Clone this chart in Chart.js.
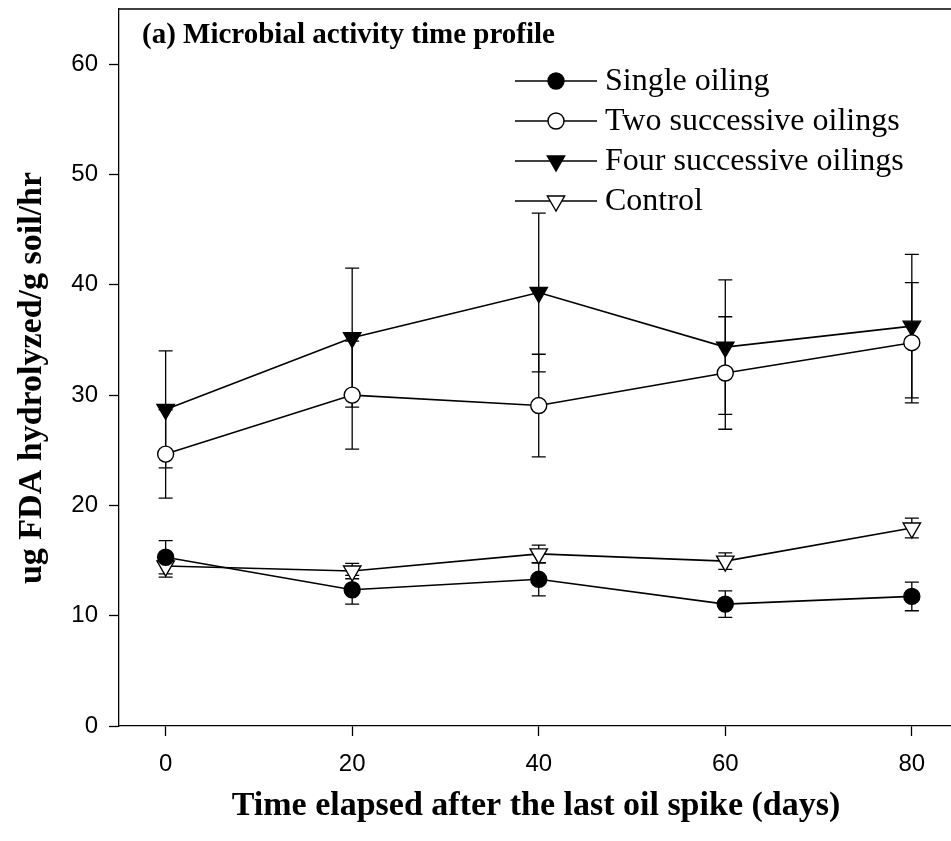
<!DOCTYPE html>
<html><head><meta charset="utf-8">
<script src="https://cdn.jsdelivr.net/npm/chart.js@4.4.1/dist/chart.umd.min.js"></script>
<style>html,body{margin:0;padding:0;background:#fff;overflow:hidden}#wrap{width:951px;height:841px;position:relative}</style>
</head><body><div id="wrap"><canvas id="c" width="951" height="841"></canvas></div>
<script>
const days = [0, 20, 40, 60, 80];
const xTicks = [0, 20, 40, 60, 80];
const yTicks = [0, 10, 20, 30, 40, 50, 60];
const seriesNames = ["Single oiling", "Two successive oilings", "Four successive oilings", "Control"];
const singleOiling = [15.3, 12.35, 13.3, 11.05, 11.75];
const singleErr = [1.5, 1.3, 1.5, 1.2, 1.3];
const twoOilings = [24.65, 30.0, 29.05, 32.0, 34.75];
const twoErr = [4.0, 4.9, 4.65, 5.1, 5.45];
const fourOilings = [28.7, 35.2, 39.3, 34.35, 36.25];
const fourErr = [5.3, 6.3, 7.2, 6.1, 6.5];
const control = [14.5, 14.05, 15.6, 14.95, 17.95];
const controlErr = [1.0, 0.7, 0.8, 0.75, 0.9];
const titleText = "(a) Microbial activity time profile";
const xTitle = "Time elapsed after the last oil spike (days)";
const yTitle = "ug FDA hydrolyzed/g soil/hr";

const styles = [
  {pointStyle: 'circle', radius: 8, rotation: 0, fill: '#000'},
  {pointStyle: 'circle', radius: 8, rotation: 0, fill: '#fff'},
  {pointStyle: 'triangle', radius: 10, rotation: 180, fill: '#000'},
  {pointStyle: 'triangle', radius: 10, rotation: 180, fill: '#fff'}
];
const values = [singleOiling, twoOilings, fourOilings, control];
const errs = [singleErr, twoErr, fourErr, controlErr];

const datasets = values.map((vals, i) => ({
  label: seriesNames[i],
  data: days.map((d, j) => ({x: d, y: vals[j]})),
  errors: errs[i],
  borderColor: '#000',
  borderWidth: 1.6,
  backgroundColor: styles[i].fill,
  pointStyle: styles[i].pointStyle,
  pointRadius: styles[i].radius,
  pointRotation: styles[i].rotation,
  pointBackgroundColor: styles[i].fill,
  pointBorderColor: '#000',
  pointBorderWidth: 1.4,
  tension: 0
}));

const errorBars = {
  id: 'errorBars',
  beforeDatasetsDraw(chart) {
    const ctx = chart.ctx, xs = chart.scales.x, ys = chart.scales.y;
    ctx.save();
    ctx.strokeStyle = '#000';
    ctx.lineWidth = 1.3;
    chart.data.datasets.forEach(ds => {
      ds.data.forEach((p, j) => {
        const e = ds.errors[j];
        const px = xs.getPixelForValue(p.x);
        const yt = ys.getPixelForValue(p.y + e);
        const yb = ys.getPixelForValue(p.y - e);
        ctx.beginPath();
        ctx.moveTo(px, yt); ctx.lineTo(px, yb);
        ctx.moveTo(px - 7, yt); ctx.lineTo(px + 7, yt);
        ctx.moveTo(px - 7, yb); ctx.lineTo(px + 7, yb);
        ctx.stroke();
      });
    });
    ctx.restore();
  }
};

const decorations = {
  id: 'decorations',
  afterDraw(chart) {
    const ctx = chart.ctx, a = chart.chartArea;
    ctx.save();
    ctx.strokeStyle = '#000';
    ctx.lineWidth = 1.3;
    ctx.beginPath();
    ctx.moveTo(a.left, a.top); ctx.lineTo(a.right, a.top);
    ctx.stroke();
    ctx.fillStyle = '#000';
    ctx.font = 'bold 29px "Liberation Serif", "Times New Roman", serif';
    ctx.textAlign = 'left'; ctx.textBaseline = 'alphabetic';
    ctx.fillText(titleText, 142, 43);
    ctx.font = '32px "Liberation Serif", "Times New Roman", serif';
    chart.data.datasets.forEach((ds, i) => {
      const y = 81 + i * 40;
      ctx.strokeStyle = '#000';
      ctx.lineWidth = 1.6;
      ctx.beginPath(); ctx.moveTo(515, y); ctx.lineTo(597, y); ctx.stroke();
      ctx.fillStyle = styles[i].fill;
      ctx.lineWidth = 1.4;
      Chart.helpers.drawPoint(ctx, {pointStyle: styles[i].pointStyle, radius: styles[i].radius, rotation: styles[i].rotation, borderWidth: 1.4}, 556, y);
      ctx.fillStyle = '#000';
      ctx.textBaseline = 'alphabetic';
      ctx.fillText(ds.label, 605, y + 9);
    });
    ctx.font = 'bold 34px "Liberation Serif", "Times New Roman", serif';
    ctx.textAlign = 'center'; ctx.textBaseline = 'middle';
    ctx.fillText(xTitle, 536, 806);
    ctx.translate(32, 378);
    ctx.rotate(-Math.PI / 2);
    ctx.fillText(yTitle, 0, 0);
    ctx.restore();
  }
};

function zeroPad(s) { s.paddingLeft = 0; s.paddingRight = 0; s.paddingTop = 0; s.paddingBottom = 0; }

new Chart(document.getElementById('c'), {
  type: 'line',
  data: {datasets},
  options: {
    responsive: false,
    animation: false,
    layout: {autoPadding: false, padding: {top: 9, right: 0, left: 0, bottom: 0}},
    plugins: {legend: {display: false}, tooltip: {enabled: false}, title: {display: false}},
    scales: {
      x: {
        type: 'linear', min: -5, max: 84.2,
        afterBuildTicks: s => { s.ticks = xTicks.map(v => ({value: v})); },
        afterFit: s => { s.height = 115; zeroPad(s); },
        grid: {drawOnChartArea: false, drawTicks: true, tickLength: 10, tickColor: '#000', tickWidth: 1.3},
        border: {display: true, color: '#000', width: 1.3},
        ticks: {color: '#000', padding: 14, maxRotation: 0, font: {family: '"Liberation Sans", Arial, sans-serif', size: 24}}
      },
      y: {
        type: 'linear', min: 0, max: 65,
        afterBuildTicks: s => { s.ticks = yTicks.map(v => ({value: v})); },
        afterFit: s => { s.width = 119; zeroPad(s); },
        grid: {drawOnChartArea: false, drawTicks: true, tickLength: 10, tickColor: '#000', tickWidth: 1.3},
        border: {display: true, color: '#000', width: 1.3},
        ticks: {color: '#000', padding: 11, font: {family: '"Liberation Sans", Arial, sans-serif', size: 24}}
      }
    }
  },
  plugins: [errorBars, decorations]
});
</script></body></html>
